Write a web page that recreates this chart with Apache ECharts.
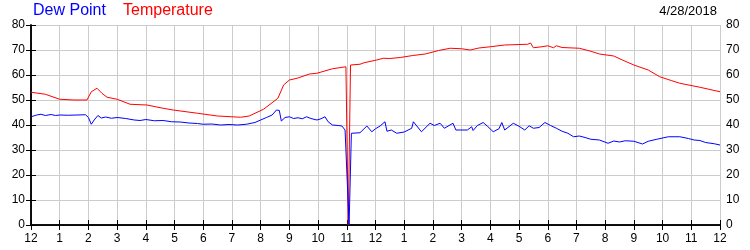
<!DOCTYPE html>
<html><head><meta charset="utf-8">
<script src="https://cdn.jsdelivr.net/npm/echarts@6/dist/echarts.min.js"></script>
<style>html,body{margin:0;padding:0;background:#fff}#c{width:750px;height:250px}</style>
</head><body><div id="c"></div>
<script>
const hourTicks = [0,1,2,3,4,5,6,7,8,9,10,11,12,13,14,15,16,17,18,19,20,21,22,23,24];
const hourLabels = ['12','1','2','3','4','5','6','7','8','9','10','11','12','1','2','3','4','5','6','7','8','9','10','11','12'];
const yTicks = [0,10,20,30,40,50,60,70,80];
const legendNames = ['Dew Point','Temperature'];
const dateLabel = '4/28/2018';

const temperature = [
[0,53.1],[0.5,52.3],[1,50.3],[1.5,50],[1.95,50],[2.1,53.3],[2.3,54.7],[2.47,52.7],[2.65,51.1],[3,50.3],
[3.45,48.3],[4.04,48],[4.6,46.7],[4.95,46],[5.8,44.7],[6.5,43.6],[7.3,43.1],[7.6,43.6],[8.1,46.3],[8.6,50.7],
[8.8,56],[9.0,58],[9.27,58.7],[9.7,60.4],[9.96,60.7],[10.5,62.5],[10.97,63.3],[11.05,0],[11.13,64],[11.46,64.3],
[11.6,64.9],[12.04,66],[12.27,66.7],[12.5,66.6],[12.86,67],[13.3,67.8],[13.73,68.4],[14.2,69.8],[14.6,70.7],[15.0,70.5],
[15.3,70],[15.6,70.8],[16,71.3],[16.5,72],[17.3,72.3],[17.4,72.8],[17.5,70.9],[17.8,71.3],[18,71.7],[18.2,70.9],
[18.3,71.7],[18.5,71],[19.1,70.7],[19.5,69.5],[19.8,68.4],[20.3,67.6],[20.6,66],[21,64],[21.5,62],[21.9,59.3],
[22.3,57.8],[22.6,56.7],[23.3,55.1],[24,53.3]
];

const dewPoint = [
[0,43.3],[0.2,44],[0.35,44.3],[0.5,43.8],[0.7,44.2],[0.85,43.8],[1,44],[1.3,43.9],[1.6,44],[1.9,44.1],
[2.0,43],[2.1,40.3],[2.2,42],[2.33,43.8],[2.45,42.8],[2.6,43.2],[2.8,42.7],[3,43],[3.3,42.6],[3.6,42],
[3.8,41.8],[4,42.2],[4.3,41.7],[4.6,41.8],[4.9,41.3],[5.2,41.2],[5.5,40.8],[5.8,40.6],[6,40.3],[6.3,40.4],
[6.6,40],[6.9,40.2],[7.2,40],[7.5,40.3],[7.8,41],[8,42],[8.2,43],[8.4,44],[8.55,46],[8.65,45.8],
[8.72,41.6],[8.85,43],[9.0,43.3],[9.15,42.6],[9.3,42.9],[9.45,42.5],[9.6,43.3],[9.75,42.6],[9.96,42],[10.1,42.5],
[10.24,43.3],[10.35,41.3],[10.5,40],[10.7,39.8],[10.83,39.6],[10.94,38],[10.98,38],[11.08,0],[11.16,36.7],[11.46,36.9],
[11.7,39.6],[11.87,37.3],[12.0,38.5],[12.16,39.6],[12.33,41.3],[12.4,37.5],[12.55,38],[12.74,36.7],[13.0,37.2],[13.26,38.7],
[13.32,41.3],[13.6,37.3],[13.9,40.7],[14.05,39.8],[14.25,40.7],[14.4,38.7],[14.7,40.7],[14.8,38],[15.2,38],[15.35,39.3],
[15.4,37.8],[15.55,39.8],[15.75,41],[15.9,39.5],[16.1,37.3],[16.3,38.5],[16.4,41],[16.5,38],[16.8,40.7],[17.0,39.5],
[17.2,38],[17.35,39.7],[17.5,38.7],[17.7,39],[17.9,41],[18.1,39.8],[18.3,38.7],[18.5,37.5],[18.7,36.7],[18.9,35.3],
[19.1,35.6],[19.3,35],[19.5,34.3],[19.8,34],[20.1,32.7],[20.3,33.6],[20.5,33.2],[20.7,33.7],[21,33.5],[21.3,32.4],
[21.5,33.5],[21.8,34.3],[22.2,35.3],[22.6,35.3],[22.9,34.6],[23.1,34],[23.3,33.8],[23.5,33],[23.8,32.5],[24,32]
];

const FONT = '"Liberation Sans", Arial, sans-serif';
const chart = echarts.init(document.getElementById('c'), null, {renderer:'canvas'});
const axisLine = {show:true, lineStyle:{color:'#000', width:1.5}};
const xBase = {
  type:'value', min:0, max:24, interval:1,
  axisLine: axisLine,
  axisTick:{show:true, inside:true, length:5, lineStyle:{color:'#000'}},
  splitLine:{show:false}
};
const yBase = {
  type:'value', min:0, max:80, interval:10,
  axisLine: axisLine,
  axisTick:{show:true, inside:true, length:5, lineStyle:{color:'#000'}},
  axisLabel:{color:'#000', fontSize:12, fontFamily:FONT, margin:6},
  splitLine:{show:false}
};
chart.setOption({
  animation:false,
  grid:{left:31, right:30, top:25, bottom:25, containLabel:false},
  graphic:[
    {type:'text', left:33, top:3, style:{text:legendNames[0], fill:'#0000ff', font:'16px '+FONT}},
    {type:'text', left:123, top:3, style:{text:legendNames[1], fill:'#ff0000', font:'16px '+FONT}},
    {type:'text', right:33, top:5, style:{text:dateLabel, fill:'#000', font:'13px '+FONT}}
  ],
  xAxis:[
    Object.assign({}, xBase, {position:'bottom',
      axisLabel:{color:'#000', fontSize:12, fontFamily:FONT, margin:8,
        formatter:v=>hourLabels[hourTicks.indexOf(v)]},
      splitLine:{show:true, lineStyle:{color:'#cccccc', width:1}}}),
    Object.assign({}, xBase, {position:'top', axisLabel:{show:false}})
  ],
  yAxis:[
    Object.assign({}, yBase, {position:'left', splitLine:{show:true, lineStyle:{color:'#cccccc', width:1}}}),
    Object.assign({}, yBase, {position:'right'})
  ],
  series:[
    {name:legendNames[1], type:'line', data:temperature, showSymbol:false, symbol:'none',
     lineStyle:{color:'#ff0000', width:1}, z:3},
    {name:legendNames[0], type:'line', data:dewPoint, showSymbol:false, symbol:'none',
     lineStyle:{color:'#0000ff', width:1}, z:4}
  ]
});
</script></body></html>
